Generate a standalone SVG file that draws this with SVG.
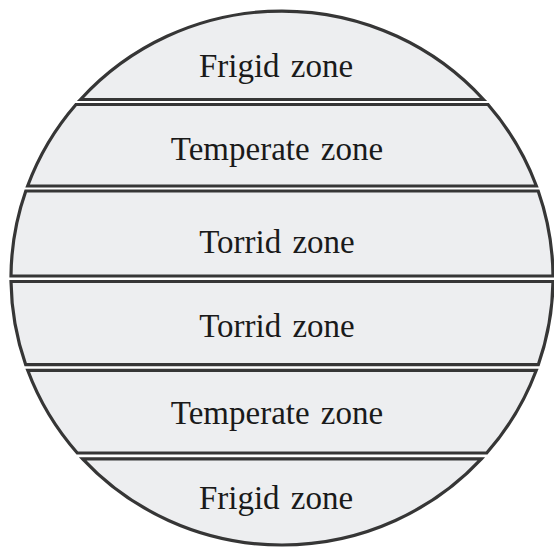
<svg xmlns="http://www.w3.org/2000/svg" width="554" height="547" viewBox="0 0 554 547">
<style>
.band{fill:#edeef0;stroke:#363636;stroke-width:3.2;stroke-linejoin:miter;stroke-miterlimit:10}
.lbl{font-family:"Liberation Serif","Times New Roman",serif;font-size:33px;fill:#1a1a1a;text-anchor:middle;word-spacing:3px}
</style>
<rect width="554" height="547" fill="#ffffff"/>
<g id="frigid-north">
<path class="band" d="M80.5 99.5 A271 267 0 0 1 483.5 99.5 Z"/>
<text class="lbl" x="276" y="77">Frigid zone</text>
</g>
<g id="temperate-north">
<path class="band" d="M76 104.5 L488 104.5 A271 267 0 0 1 536.4 186 L27.6 186 A271 267 0 0 1 76 104.5 Z"/>
<text class="lbl" x="277" y="159.5">Temperate zone</text>
</g>
<g id="torrid-north">
<path class="band" d="M25.8 191 L538.2 191 A271 267 0 0 1 553 276 L11 276 A271 267 0 0 1 25.8 191 Z"/>
<text class="lbl" x="277" y="253">Torrid zone</text>
</g>
<g id="torrid-south">
<path class="band" d="M11 281.5 L553 281.5 A271 267 0 0 1 538.3 364.7 L25.7 364.7 A271 267 0 0 1 11 281.5 Z"/>
<text class="lbl" x="277" y="337">Torrid zone</text>
</g>
<g id="temperate-south">
<path class="band" d="M27.7 370.3 L536.3 370.3 A271 267 0 0 1 486.7 453 L77.3 453 A271 267 0 0 1 27.7 370.3 Z"/>
<text class="lbl" x="277" y="424">Temperate zone</text>
</g>
<g id="frigid-south">
<path class="band" d="M82.6 458.8 L481.4 458.8 A271 267 0 0 1 82.6 458.8 Z"/>
<text class="lbl" x="276" y="509">Frigid zone</text>
</g>
<g id="connectors"></g>
</svg>
